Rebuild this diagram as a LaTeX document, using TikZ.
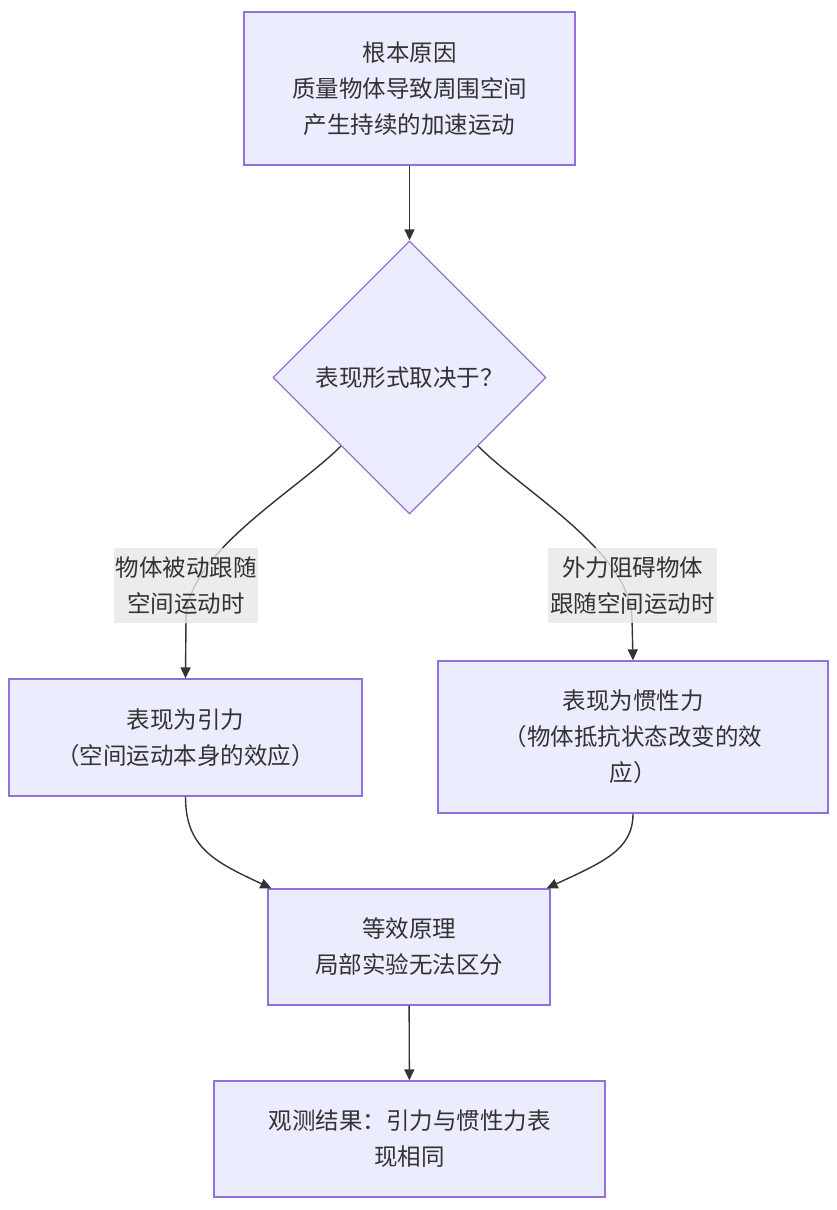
\documentclass[tikz,border=0pt]{standalone}
\usepackage{fontspec}
\setmainfont{Noto Sans CJK SC}
\usetikzlibrary{shapes.geometric,arrows.meta}
\definecolor{nodefill}{HTML}{ECECFF}
\definecolor{nodeline}{HTML}{9370DB}
\definecolor{edgeline}{HTML}{333333}
\definecolor{txt}{HTML}{333333}
\definecolor{lblfill}{HTML}{E8E8E8}
\begin{document}
\begin{tikzpicture}[x=1pt,y=-1pt,
  box/.style={draw=nodeline,fill=nodefill,line width=1.3pt,align=center,text=txt,inner sep=0pt,font=\fontsize{23.5}{36}\selectfont},
  dia/.style={box,diamond,aspect=1,minimum width=273,minimum height=273},
  lbl/.style={fill=lblfill,fill opacity=0.8,text opacity=1,align=center,text=txt,inner sep=0pt,font=\fontsize{23.5}{36}\selectfont},
  arr/.style={draw=edgeline,line width=1.4pt,-{Triangle[length=11pt,width=10pt]}}]
\fill[white] (0,0) rectangle (837,1210);
\useasboundingbox (0,0) rectangle (837,1210);
\node[box,minimum width=331,minimum height=153] (root) at (409.5,88.5) {根本原因\\质量物体导致周围空间\\产生持续的加速运动};
\node[dia] (d) at (409.5,377.5) {表现形式取决于？};
\node[box,minimum width=353,minimum height=117] (L) at (185.5,737.5) {表现为引力\\（空间运动本身的效应）};
\node[box,minimum width=390,minimum height=152] (R) at (633,737) {表现为惯性力\\（物体抵抗状态改变的效\\应）};
\node[box,minimum width=282,minimum height=116] (M) at (409,947) {等效原理\\局部实验无法区分};
\node[box,minimum width=391,minimum height=116] (B) at (409.5,1139) {观测结果：引力与惯性力表\\现相同};
\draw[arr] (root) -- (d);
\draw[arr] (d.south west) .. controls (295,492) and (188,552) .. (186,618) -- (L.north);
\draw[arr] (d.south east) .. controls (524,492) and (630,552) .. (632,618) -- (R.north);
\draw[arr] (L.south) .. controls (185.5,848) and (215,862) .. ([xshift=4pt]M.north west);
\draw[arr] (R.south) .. controls (633,850) and (603,862) .. ([xshift=-4pt]M.north east);
\draw[arr] (M) -- (B);
\node[lbl,minimum width=144,minimum height=75] (l1) at (186,585.5) {物体被动跟随\\空间运动时};
\node[lbl,minimum width=169,minimum height=75] (l2) at (632.5,585.5) {外力阻碍物体\\跟随空间运动时};
\end{tikzpicture}
\end{document}
